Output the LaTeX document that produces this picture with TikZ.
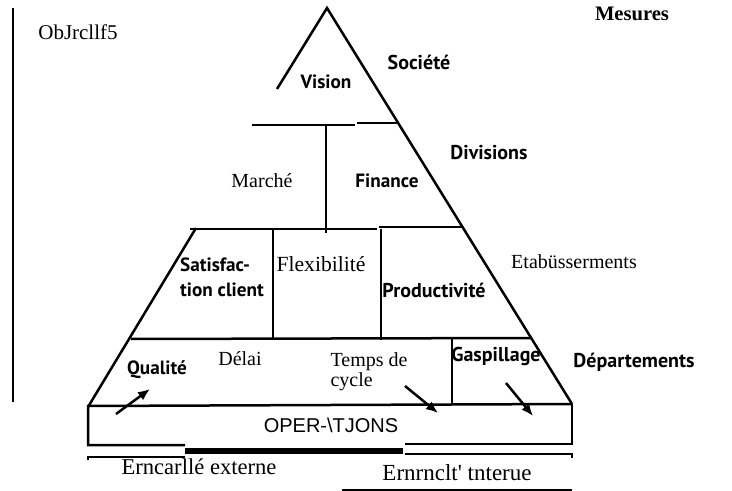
\documentclass[tikz,border=0pt]{standalone}
\usepackage{fontspec}
\setmainfont{Liberation Serif}
\newfontfamily\optfont{PT Sans}
\newfontfamily\helvfont{Liberation Sans}
\usetikzlibrary{arrows.meta}

\begin{document}
\begin{tikzpicture}[x=0.5pt,y=-0.5pt,line width=1.25pt,
  lbl/.style={font=\fontsize{10}{12}\selectfont},
  opt/.style={font=\optfont\bfseries\fontsize{9.6}{12.5}\selectfont},
  optb/.style={font=\optfont\bfseries\fontsize{10}{12}\selectfont}]
\useasboundingbox (0,0) rectangle (732,491);
% pyramide
\coordinate (apex) at (327,8);
\draw (277,89) -- (apex) -- (572,404);
\draw (196,228) -- (88,407);
\draw (13,8) -- (13,402);
\draw (252,125) -- (355,125);
\draw (357,123) -- (397,123);
\draw (326,125) -- (326,233);
\draw (190,229) -- (377,229);
\draw (379,227) -- (463,227);
\draw (273,229) -- (273,340);
\draw (381,229) -- (381,340);
\draw (131,339) -- (531,338);
\draw (452,339) -- (452,405);
% operations
\draw (572,404) -- (88,406) -- (88,445) -- (185,445);
\draw (405,444) -- (572,444) -- (572,404);
\draw[line width=2.6pt] (185,451) -- (403,451);
\draw (88,460) -- (88,457) -- (185,457);
\draw (405,454) -- (572,454) -- (572,458);
\draw (342,490) -- (572,490);
\foreach \i/\xa/\ya/\xb/\yb in {1/116/414/150/389, 2/405/386/438/413, 3/506/383/533/416} {
  \coordinate (s\i) at (\xa,\ya);
  \coordinate (e\i) at (\xb,\yb);
  \draw[-{Latex[length=6pt,width=5pt]}] (s\i) -- (e\i);
}
% textes
\node[font=\fontsize{10.5}{12}\selectfont] (obj) at (78,32) {ObJrcllf5};
\node[font=\bfseries\fontsize{10.3}{12}\selectfont] (mes) at (632,14) {Mesures};
\node[optb] (soc) at (419,62) {Société};
\node[opt] (vis) at (326,82) {Vision};
\node[optb] (div) at (489,153) {Divisions};
\node[lbl] (mar) at (262,181) {Marché};
\node[opt] (fin) at (387,181) {Finance};
\node[opt,align=left] (sat) at (222,277) {Satisfac-\\tion client};
\node[font=\fontsize{10.8}{12}\selectfont] (flex) at (321,264) {Flexibilité};
\node[optb] (prod) at (434,290) {Productivité};
\node[lbl] (eta) at (574,262) {Etabüsserments};
\node[opt] (qual) at (157,370) {Qualité};
\node[lbl] (del) at (240,359) {Délai};
\node[font=\fontsize{10}{10}\selectfont,align=left] (tmp) at (369,372) {Temps de\\cycle};
\node[optb] (gasp) at (496,356) {Gaspillage};
\node[optb] (dep) at (634,362) {Départements};
\node[font=\helvfont\fontsize{10}{12}\selectfont] (ops) at (331,425) {OPER-\textbackslash TJONS};
\node[font=\fontsize{11.3}{12}\selectfont] (ext) at (199,467) {Erncarllé externe};
\node[font=\fontsize{11.5}{12}\selectfont] (int) at (457,473) {Ernrnclt\textquotesingle{} tnterue};
\end{tikzpicture}
\end{document}
